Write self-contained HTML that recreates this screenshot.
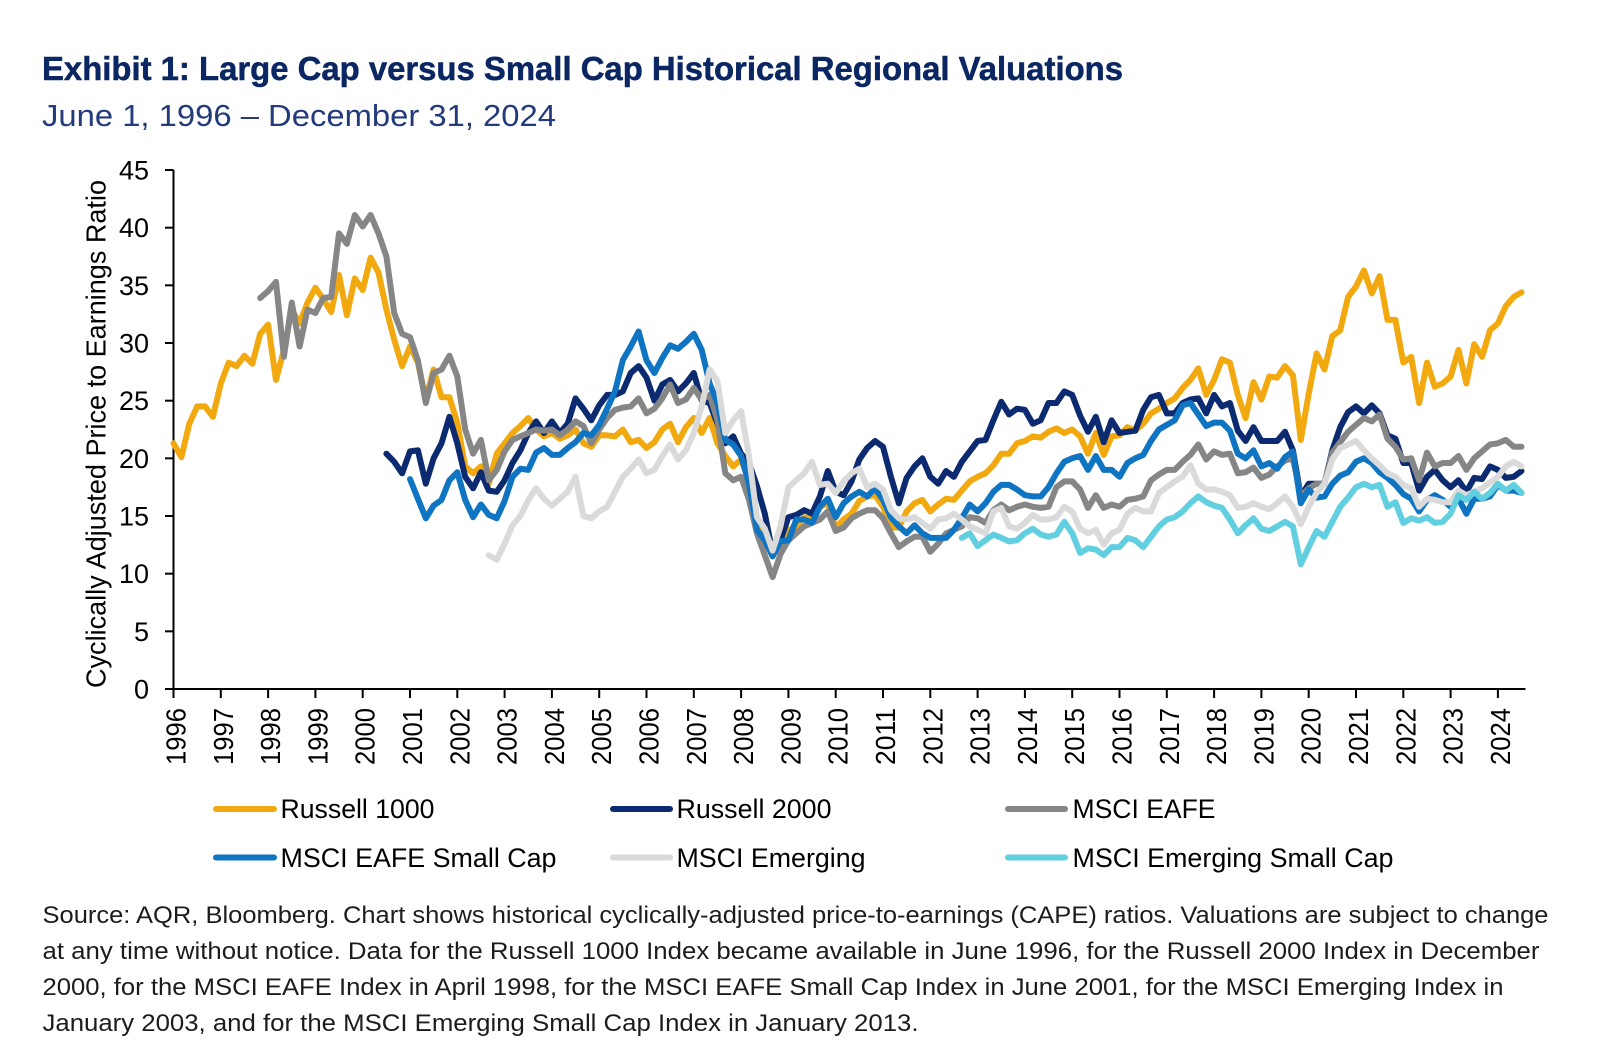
<!DOCTYPE html>
<html lang="en">
<head>
<meta charset="utf-8">
<title>Exhibit 1: Large Cap versus Small Cap Historical Regional Valuations</title>
<style>
html,body{margin:0;padding:0;background:#fff;}
svg{display:block;font-family:"Liberation Sans",sans-serif;}
</style>
</head>
<body>
<svg id="chart" xmlns="http://www.w3.org/2000/svg" width="1600" height="1049" viewBox="0 0 1600 1049">
  <rect x="0" y="0" width="1600" height="1049" fill="#ffffff"/>
  <text x="42" y="80" font-size="33.5" font-weight="700" fill="#0a2663" stroke="#0a2663" stroke-width="0.5" textLength="1081" lengthAdjust="spacingAndGlyphs">Exhibit 1: Large Cap versus Small Cap Historical Regional Valuations</text>
  <text x="42" y="126" font-size="31" fill="#233a7c" textLength="514" lengthAdjust="spacingAndGlyphs">June 1, 1996 – December 31, 2024</text>
  <text transform="translate(105.5,434) rotate(-90)" text-anchor="middle" font-size="27.5" fill="#000" textLength="508" lengthAdjust="spacingAndGlyphs">Cyclically Adjusted Price to Earnings Ratio</text>
  <g id="axes"></g>
  <g id="series"></g>

  <g font-size="27" fill="#000">
    <g>
      <line x1="216" y1="809" x2="274" y2="809" stroke="#f2a90f" stroke-width="6" stroke-linecap="round"/>
      <text x="280.5" y="818" textLength="154" lengthAdjust="spacingAndGlyphs">Russell 1000</text>
    </g>
    <g>
      <line x1="613" y1="809" x2="670" y2="809" stroke="#0b2a6f" stroke-width="6" stroke-linecap="round"/>
      <text x="676.5" y="818" textLength="155" lengthAdjust="spacingAndGlyphs">Russell 2000</text>
    </g>
    <g>
      <line x1="1008" y1="809" x2="1065" y2="809" stroke="#868686" stroke-width="6" stroke-linecap="round"/>
      <text x="1072.5" y="818" textLength="143" lengthAdjust="spacingAndGlyphs">MSCI EAFE</text>
    </g>
    <g>
      <line x1="216" y1="857.5" x2="274" y2="857.5" stroke="#0f75c2" stroke-width="6" stroke-linecap="round"/>
      <text x="280.5" y="867" textLength="276" lengthAdjust="spacingAndGlyphs">MSCI EAFE Small Cap</text>
    </g>
    <g>
      <line x1="613" y1="857.5" x2="670" y2="857.5" stroke="#dadada" stroke-width="6" stroke-linecap="round"/>
      <text x="676.5" y="867" textLength="189" lengthAdjust="spacingAndGlyphs">MSCI Emerging</text>
    </g>
    <g>
      <line x1="1008" y1="857.5" x2="1065" y2="857.5" stroke="#62cfe0" stroke-width="6" stroke-linecap="round"/>
      <text x="1072.5" y="867" textLength="321" lengthAdjust="spacingAndGlyphs">MSCI Emerging Small Cap</text>
    </g>
  </g>

  <g font-size="24.5" fill="#1c1c1c">
    <text x="42.5" y="923" textLength="1506" lengthAdjust="spacingAndGlyphs">Source: AQR, Bloomberg. Chart shows historical cyclically-adjusted price-to-earnings (CAPE) ratios. Valuations are subject to change</text>
    <text x="42.5" y="959" textLength="1497" lengthAdjust="spacingAndGlyphs">at any time without notice. Data for the Russell 1000 Index became available in June 1996, for the Russell 2000 Index in December</text>
    <text x="42.5" y="995" textLength="1461" lengthAdjust="spacingAndGlyphs">2000, for the MSCI EAFE Index in April 1998, for the MSCI EAFE Small Cap Index in June 2001, for the MSCI Emerging Index in</text>
    <text x="42.5" y="1031" textLength="876" lengthAdjust="spacingAndGlyphs">January 2003, and for the MSCI Emerging Small Cap Index in January 2013.</text>
  </g>
</svg>

<script>
// Chart data: values read every two months, first value at the start offset below.
const yearLabels = [1996,1997,1998,1999,2000,2001,2002,2003,2004,2005,2006,2007,2008,2009,2010,2011,2012,2013,2014,2015,2016,2017,2018,2019,2020,2021,2022,2023,2024];
const valueTicks = [0,5,10,15,20,25,30,35,40,45];
const monthsPerSample = 2;

const russell1000Start = 0;
const russell1000 = [21.3,20.1,23.0,24.5,24.5,23.6,26.5,28.3,28.0,28.9,
28.2,30.8,31.6,26.8,29.4,32.9,31.7,33.5,34.8,33.8,
32.7,35.9,32.4,35.6,34.6,37.4,36.1,32.9,30.3,28.0,
29.7,28.3,25.1,27.7,25.3,25.3,23.1,19.3,18.7,19.3,
17.8,20.4,21.3,22.2,22.8,23.5,22.5,21.9,22.2,21.7,
22.0,22.5,21.3,21.0,22.0,22.0,21.9,22.5,21.4,21.6,
20.9,21.4,22.5,23.0,21.4,22.7,23.5,22.2,23.5,21.3,
20.2,19.3,19.9,18.1,14.7,13.2,12.0,12.3,13.8,14.0,
14.9,14.7,15.8,16.1,14.0,14.7,15.2,16.3,16.7,16.8,
15.8,14.0,14.0,15.4,16.1,16.4,15.4,16.0,16.5,16.4,
17.2,18.0,18.4,18.7,19.4,20.4,20.4,21.3,21.5,21.9,
21.8,22.3,22.6,22.2,22.5,21.9,20.4,22.2,20.3,21.9,
22.0,22.7,22.4,23.0,23.9,24.3,24.8,25.2,26.1,26.8,
27.8,25.5,26.8,28.6,28.3,25.5,23.5,26.6,25.1,27.1,
27.0,28.0,27.2,21.6,25.6,29.1,27.7,30.6,31.1,34.0,
34.9,36.3,34.3,35.8,32.0,32.0,28.3,28.8,24.8,28.3,
26.2,26.5,27.1,29.4,26.5,29.9,28.8,31.1,31.7,33.2,
34.0,34.4];

const russell2000Start = 54;
const russell2000 = [20.4,19.7,18.7,20.6,20.7,17.8,20.0,21.3,23.6,21.3,18.4,17.4,18.8,17.2,
17.1,18.1,19.6,20.7,22.2,23.2,22.2,23.2,22.2,23.0,
25.2,24.3,23.3,24.6,25.5,25.5,25.8,27.4,28.0,27.0,
25.0,26.4,26.8,25.8,26.5,27.4,25.0,24.8,23.0,21.3,
21.9,20.4,19.6,17.6,15.2,11.8,12.9,14.9,15.1,15.5,
15.2,16.7,18.9,17.1,16.8,18.0,19.9,20.9,21.5,21.0,
18.4,16.1,18.3,19.3,20.0,18.4,17.8,18.9,18.4,19.7,
20.6,21.5,21.6,23.3,24.9,23.8,24.3,24.2,23.0,23.3,
24.8,24.8,25.8,25.5,23.7,22.3,23.6,21.4,23.3,22.2,
22.3,22.4,24.2,25.3,25.5,23.9,23.9,24.8,25.1,25.2,
23.9,25.5,24.5,24.8,22.4,21.5,22.7,21.5,21.5,21.5,
22.3,20.7,16.7,17.8,17.8,17.8,20.7,22.7,24.0,24.5,
23.9,24.6,23.9,22.0,21.7,19.6,19.6,17.2,18.4,19.0,
18.1,17.5,18.1,17.1,18.3,18.2,19.3,19.0,18.3,18.4,18.9];

const msciEafeStart = 22;
const msciEafe = [33.9,34.5,35.3,28.8,33.5,29.7,32.9,32.6,33.9,34.0,
39.5,38.6,41.1,40.1,41.1,39.5,37.5,32.6,30.8,30.5,
28.5,24.8,27.4,27.7,28.9,27.1,22.5,20.4,21.6,18.1,
19.0,20.6,21.6,21.9,22.2,22.5,22.4,22.5,22.0,22.5,
23.2,22.8,21.3,22.5,23.5,24.2,24.4,24.5,25.2,23.9,
24.3,25.2,26.4,24.8,25.1,26.1,25.1,25.5,23.3,18.7,
18.1,18.4,16.4,13.5,11.6,9.7,11.7,12.9,13.5,14.1,
14.4,14.7,15.4,13.7,14.0,14.8,15.2,15.5,15.5,14.8,
13.5,12.3,12.8,13.2,13.2,11.9,12.6,13.5,13.8,14.1,
14.9,14.8,14.4,15.5,16.0,15.5,15.8,16.0,15.8,15.7,
15.8,17.5,18.0,18.0,17.3,15.7,16.8,15.7,16.0,15.8,
16.4,16.5,16.7,18.1,18.6,19.0,19.0,19.7,20.3,21.2,
19.9,20.6,20.3,20.4,18.7,18.8,19.2,18.3,18.6,19.3,
19.8,20.0,16.7,17.4,17.8,17.8,20.5,21.4,22.3,22.9,
23.5,23.2,23.8,21.7,21.0,19.9,20.0,18.1,20.5,19.3,
19.6,19.6,20.2,19.0,20.0,20.6,21.2,21.3,21.6,21.0,21.0];

const msciEafeSmallStart = 60;
const msciEafeSmall = [18.2,16.5,14.8,15.9,16.4,18.1,18.8,16.4,14.9,16.0,15.1,
14.8,16.3,18.4,19.1,19.0,20.5,20.9,20.3,20.3,20.9,
21.4,22.2,22.0,22.9,24.3,25.8,28.5,29.7,31.0,28.5,
27.4,28.7,29.8,29.5,30.1,30.8,29.4,26.5,24.8,21.6,
21.2,20.2,17.8,13.8,12.9,11.5,12.8,12.9,14.7,14.7,
14.4,15.8,16.5,14.9,16.1,16.7,17.1,16.7,17.4,16.4,
14.9,14.1,13.5,14.2,13.5,13.1,13.1,13.1,13.8,14.8,
16.0,15.4,16.1,17.1,17.7,17.7,17.3,16.8,16.7,16.7,
17.5,18.7,19.7,20.0,20.2,19.0,20.2,19.0,19.0,18.4,
19.6,20.0,20.3,21.5,22.5,22.9,23.3,24.6,24.8,23.8,
22.8,23.1,23.1,22.4,20.4,20.0,20.7,19.3,19.6,19.1,
20.1,20.6,16.1,17.3,16.6,16.7,17.8,18.5,18.8,19.7,
20.0,19.6,18.8,18.3,17.7,16.9,16.5,15.4,16.4,16.8,
16.4,15.8,16.5,15.2,16.5,16.5,16.7,17.7,17.2,17.2,17.0];

const msciEmergingStart = 80;
const msciEmerging = [11.6,11.2,12.6,14.2,15.0,16.4,17.4,16.5,15.9,16.5,17.1,
18.4,15.0,14.8,15.4,15.8,17.1,18.4,19.1,19.9,18.7,
19.0,20.2,21.2,19.9,20.7,22.2,24.5,27.7,26.7,22.2,
23.3,24.1,20.2,14.9,13.9,12.0,14.1,17.5,18.1,18.7,
19.7,17.7,17.8,17.0,18.0,18.7,19.1,17.5,17.8,17.3,
15.5,14.8,14.7,14.9,14.4,13.9,14.7,14.8,15.2,14.7,
14.1,13.8,13.5,15.4,15.7,14.1,13.9,14.4,15.1,14.7,
14.7,14.9,15.8,15.4,13.9,13.5,13.8,12.5,13.5,13.8,
15.2,15.7,15.4,15.4,17.0,17.5,18.0,18.4,19.4,17.8,
17.3,17.3,17.1,16.8,15.7,15.8,16.1,15.8,15.6,16.1,
16.7,15.8,14.3,15.8,17.0,17.8,19.9,20.9,21.2,21.5,
20.7,20.0,19.4,18.7,18.4,17.7,17.4,15.8,16.5,16.4,
16.2,16.2,17.2,16.8,17.1,17.4,17.9,18.4,19.3,19.7,19.3];

const msciEmergingSmallStart = 200;
const msciEmergingSmall = [13.1,13.5,12.4,12.9,13.4,13.1,12.8,12.9,13.5,13.9,13.4,
13.2,13.4,14.5,13.5,11.8,12.2,12.1,11.6,12.3,12.3,
13.1,12.9,12.3,13.2,14.1,14.7,14.9,15.4,16.1,16.7,
16.2,15.9,15.7,14.7,13.5,14.2,14.8,13.9,13.7,14.1,
14.5,14.1,10.8,12.3,13.7,13.2,14.5,15.8,16.6,17.5,
17.8,17.5,17.7,15.8,16.2,14.4,14.8,14.6,14.9,14.4,
14.5,15.2,16.8,16.4,17.1,16.5,17.0,17.8,17.2,17.7,17.0];

// Axis functions
function xMonth(month) { return 173.5 + month * 47.3 / 12; }
function yValue(value) { return 689 - value * 11.533; }

const svgNS = 'http://www.w3.org/2000/svg';
const axes = document.getElementById('axes');
const seriesGroup = document.getElementById('series');

function make(tag, attrs, parent) {
  const el = document.createElementNS(svgNS, tag);
  for (const key in attrs) el.setAttribute(key, attrs[key]);
  parent.appendChild(el);
  return el;
}

function drawSeries(values, startMonth, color, name) {
  const pts = values.map(function (v, i) {
    return xMonth(startMonth + i * monthsPerSample).toFixed(1) + ',' + yValue(v).toFixed(1);
  }).join(' ');
  const line = make('polyline', {points: pts, fill: 'none', stroke: color, 'stroke-width': 6, 'stroke-linejoin': 'round', 'stroke-linecap': 'round'}, seriesGroup);
  
  
}

drawSeries(russell1000, russell1000Start, '#f2a90f', 'line-russell-1000');
drawSeries(russell2000, russell2000Start, '#0b2a6f', 'line-russell-2000');
drawSeries(msciEafe, msciEafeStart, '#868686', 'line-msci-eafe');
drawSeries(msciEafeSmall, msciEafeSmallStart, '#0f75c2', 'line-msci-eafe-small-cap');
drawSeries(msciEmerging, msciEmergingStart, '#dadada', 'line-msci-emerging');
drawSeries(msciEmergingSmall, msciEmergingSmallStart, '#62cfe0', 'line-msci-emerging-small-cap');

// Y axis
const yAxisLine = make('line', {x1: xMonth(0), y1: yValue(45), x2: xMonth(0), y2: yValue(0) + 1, stroke: '#000', 'stroke-width': 2}, axes);



valueTicks.forEach(function (v) {
  const tick = make('line', {x1: 165, y1: yValue(v), x2: xMonth(0), y2: yValue(v), stroke: '#000', 'stroke-width': 2}, axes);
  
  
  const label = make('text', {x: 149, y: yValue(v) + 9.5, 'text-anchor': 'end', 'font-size': 27, fill: '#000'}, axes);
  
  
  label.textContent = v;
});

// X axis
const xAxisLine = make('line', {x1: xMonth(0) - 1, y1: yValue(0), x2: 1525.5, y2: yValue(0), stroke: '#000', 'stroke-width': 2}, axes);



yearLabels.forEach(function (year, i) {
  const x = xMonth(i * 12);
  const tick = make('line', {x1: x, y1: yValue(0), x2: x, y2: yValue(0) + 9, stroke: '#000', 'stroke-width': 2}, axes);
  
  
  const label = make('text', {transform: 'translate(' + (x + 12) + ',765) rotate(-90)', 'font-size': 28, fill: '#000', textLength: 57, lengthAdjust: 'spacingAndGlyphs'}, axes);
  
  
  label.textContent = year;
});
</script>
</body>
</html>
